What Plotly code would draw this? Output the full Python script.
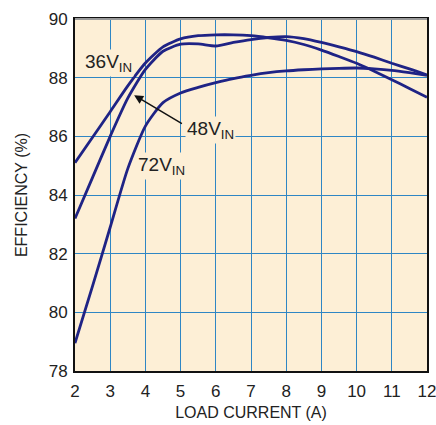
import plotly.graph_objects as go

load_current = [2, 2.5, 3, 3.5, 4, 4.5, 5, 5.5, 6, 6.5, 7, 7.5, 8, 8.5, 9, 9.5, 10, 10.5, 11, 11.5, 12]
eff_36v = [85.1, 85.97, 86.84, 87.72, 88.5, 89.05, 89.32, 89.43, 89.46, 89.46, 89.43, 89.36, 89.27, 89.13, 88.94, 88.72, 88.49, 88.22, 87.93, 87.63, 87.33]
eff_48v = [83.2, 84.6, 86.0, 87.3, 88.28, 88.9, 89.14, 89.15, 89.08, 89.2, 89.3, 89.37, 89.4, 89.33, 89.2, 89.05, 88.89, 88.7, 88.49, 88.3, 88.09]
eff_72v = [78.95, 80.9, 82.9, 84.9, 86.35, 87.15, 87.48, 87.67, 87.83, 87.97, 88.08, 88.17, 88.23, 88.27, 88.3, 88.32, 88.33, 88.3, 88.25, 88.17, 88.08]

x_ticks = [2, 3, 4, 5, 6, 7, 8, 9, 10, 11, 12]
y_ticks = [78, 80, 82, 84, 86, 88, 90]

FONT = "Liberation Sans, Arial, sans-serif"
LINE = "#1f2385"
BG = "#fdefd6"
GRID = "#2f86c4"

fig = go.Figure()
for ys in (eff_36v, eff_48v, eff_72v):
    fig.add_trace(go.Scatter(x=load_current, y=ys, mode="lines",
                             line=dict(color=LINE, width=2.8, shape="spline", smoothing=0.6),
                             showlegend=False, hoverinfo="skip"))

fig.update_layout(
    width=436, height=425,
    margin=dict(l=75, r=9, t=19, b=54),
    paper_bgcolor="white", plot_bgcolor=BG,
    font=dict(family=FONT, size=16, color="#222"),
)
fig.update_xaxes(range=[2, 12], tickvals=x_ticks, ticks="", showgrid=True,
                 gridcolor=GRID, gridwidth=1.3, showline=True, linecolor="#111",
                 linewidth=2, mirror=True, zeroline=False, automargin=False,
                 title=dict(text="LOAD CURRENT (A)", font=dict(size=16), standoff=6),
                 tickfont=dict(size=17), ticklabelstandoff=4, ticklabeloverflow="allow")
fig.update_yaxes(range=[78, 90], tickvals=y_ticks, ticks="", showgrid=True,
                 gridcolor=GRID, gridwidth=1.3, showline=True, linecolor="#111",
                 linewidth=2, mirror=True, zeroline=False, automargin=False,
                 title=dict(text="EFFICIENCY (%)", font=dict(size=16), standoff=17),
                 tickfont=dict(size=17), ticklabelstandoff=2, ticklabeloverflow="allow")
# lighter top border
fig.add_shape(type="line", xref="paper", yref="paper", x0=0, x1=1, y0=1, y1=1,
              line=dict(color="#9a9a9a", width=2))

labels = [("36V<sub>IN</sub>", 2.94, 88.5), ("48V<sub>IN</sub>", 5.85, 86.2), ("72V<sub>IN</sub>", 4.47, 85.0)]
for txt, lx, ly in labels:
    fig.add_annotation(x=lx, y=ly, text=txt, showarrow=False, bgcolor=BG,
                       font=dict(family=FONT, size=19, color="#222"), borderpad=1)

fig.add_annotation(x=3.68, y=87.4, ax=5.08, ay=86.4, axref="x", ayref="y",
                   text="", showarrow=True, arrowhead=2, arrowsize=1.2,
                   arrowwidth=1.5, arrowcolor="#111")

fig.write_html("out.html", config={"displayModeBar": False},
               post_script="document.body.style.margin='0';document.body.style.overflow='hidden';")
